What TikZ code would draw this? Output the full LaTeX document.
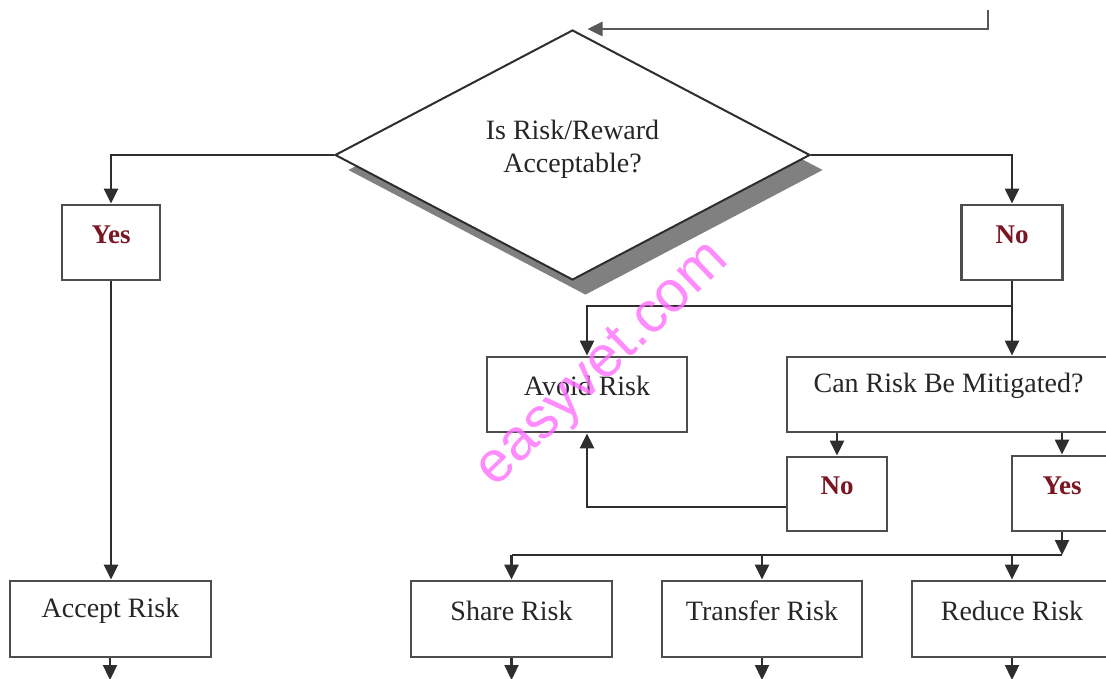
\documentclass[tikz,border=0pt]{standalone}
\usepackage{fontspec}
\setmainfont{Liberation Serif}
\newfontfamily\wmfont{Liberation Sans}
\usetikzlibrary{arrows.meta,shapes.geometric,shadows}
\definecolor{linec}{HTML}{2E2E2E}
\definecolor{ansred}{HTML}{7A1522}
\definecolor{wmpink}{HTML}{FF6EFF}
\begin{document}
\begin{tikzpicture}[x=1pt,y=-1pt,
  box/.style={draw=linec!85,line width=2.8pt,minimum width=#1,minimum height=75pt,inner sep=0pt,fill=white},
  txt/.style={font=\fontsize{28}{33}\selectfont,text=black!85,inner sep=0pt,align=center},
  ans/.style={font=\fontsize{27}{33}\selectfont\bfseries,text=ansred,inner sep=0pt},
  conn/.style={draw=linec,line width=2.3pt},
  arr/.style={conn,-{Triangle[length=15pt,width=14pt]}}]
\clip (0,0) rectangle (1106,679);
\fill[white] (0,0) rectangle (1106,679);

% decision diamond
\node[diamond,draw=linec,line width=2pt,minimum width=475pt,minimum height=250pt,inner sep=0pt,fill=white,
      drop shadow={shadow xshift=13pt,shadow yshift=-15pt,fill=gray,opacity=1}] (dia) at (572.5,155) {};
\node[txt] (dia-t) at ([yshift=6pt]dia.center) {Is Risk/Reward\\Acceptable?};

% boxes
\node[box=98]  (yes1) at (111,242.5) {};
\node[ans] (yes1-t) at ([yshift=8pt]yes1.center) {Yes};
\node[box=101] (no1) at (1012,242.5) {};
\node[ans] (no1-t) at ([yshift=8pt]no1.center) {No};

\node[box=200] (avoid) at (587,394.5) {};
\node[txt] (avoid-t) at ([yshift=9pt]avoid.center) {Avoid Risk};
\node[box=323] (can) at (948.5,394.5) {};
\node[txt] (can-t) at ([yshift=9pt]can.center) {Can Risk Be Mitigated?};

\node[box=100,minimum height=74pt] (no2) at (837,494) {};
\node[ans] (no2-t) at ([yshift=8pt]no2.center) {No};
\node[box=100] (yes2) at (1062,493.5) {};
\node[ans] (yes2-t) at ([yshift=8pt]yes2.center) {Yes};

\node[box=201,minimum height=76pt] (accept)   at (110.5,619) {};
\node[txt] (accept-t) at ([yshift=8pt]accept.center) {Accept Risk};
\node[box=201,minimum height=76pt] (share)    at (511.5,619) {};
\node[txt] (share-t) at ([yshift=8pt]share.center) {Share Risk};
\node[box=200,minimum height=76pt] (transfer) at (762,619) {};
\node[txt] (transfer-t) at ([yshift=8pt]transfer.center) {Transfer Risk};
\node[box=200,minimum height=76pt] (reduce)   at (1012,619) {};
\node[txt] (reduce-t) at ([yshift=8pt]reduce.center) {Reduce Risk};

% connectors
\coordinate (topin) at (988,10);
\draw[arr,line width=2.6pt,draw=black!65] (topin) |- ([xshift=15pt]dia.north);
\draw[arr] (dia.west) -| (yes1.north);
\draw[arr] (dia.east) -| (no1.north);
\draw[arr] (yes1.south) -- (yes1.south |- accept.north);

\coordinate (br1) at (1012,306);
\draw[arr] (no1.south) -- (no1.south |- can.north);
\draw[arr] (br1) -| (avoid.north);

\draw[arr] (no2.north |- can.south) -- (no2.north);
\draw[arr] (yes2.north |- can.south) -- (yes2.north);
\draw[arr] ([yshift=-13pt]no2.west) -| (avoid.south);

\coordinate (br2) at (1062,555);
\draw[arr] (yes2.south) -- (br2);
\draw[conn] (br2) -- (share.north |- br2);
\draw[arr] (share.north |- br2) -- (share.north);
\draw[arr] (transfer.north |- br2) -- (transfer.north);
\draw[arr] (reduce.north |- br2) -- (reduce.north);

\coordinate (accept-out) at (110,680);
\coordinate (share-out) at (511.5,680);
\coordinate (transfer-out) at (762,680);
\coordinate (reduce-out) at (1012,680);
\draw[arr] (accept.south -| accept-out) -- (accept-out);
\draw[arr] (share.south) -- (share-out);
\draw[arr] (transfer.south) -- (transfer-out);
\draw[arr] (reduce.south) -- (reduce-out);

% watermark
\node[font=\wmfont\fontsize{58}{60}\selectfont,text=wmpink,text opacity=0.8,rotate=44,inner sep=0pt] (wm) at (604,366) {easyvet.com};
\end{tikzpicture}
\end{document}
